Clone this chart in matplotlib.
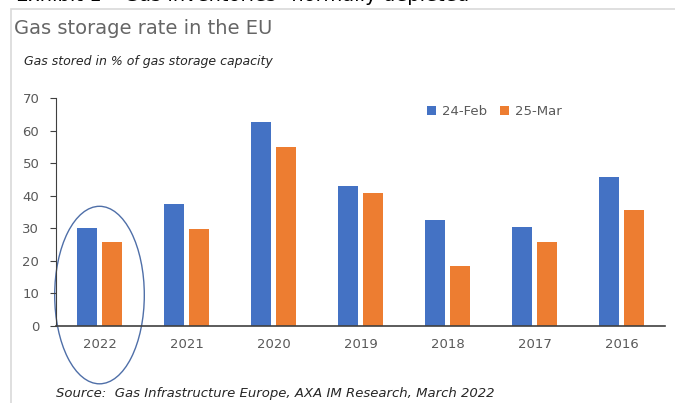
import numpy as np
import matplotlib.pyplot as plt
from matplotlib.patches import Ellipse, Rectangle

years = ['2022', '2021', '2020', '2019', '2018', '2017', '2016']
feb24 = [30, 37.5, 62.5, 43, 32.5, 30.3, 45.7]
mar25 = [25.7, 29.7, 55, 40.8, 18.5, 25.8, 35.7]

blue = '#4472C4'
orange = '#ED7D31'
grey = '#595959'

fig = plt.figure(figsize=(6.75, 4.03), dpi=100)
fig.patch.set_facecolor('white')

# light frame of the exhibit box
fig.patches.append(Rectangle((11/675, -0.1), 1.0, 1 - 9/403 + 0.1,
                             transform=fig.transFigure, fill=False,
                             edgecolor='#d9d9d9', linewidth=1.2))

# exhibit heading, cut by the top edge as in the source screenshot
fig.text(16/675, 1 + 4/403, 'Exhibit 1 \u2013 Gas inventories \u201cnormally depleted\u201d',
         fontsize=14, color='black', va='center', ha='left')

fig.text(14/675, 1 - 28/403, 'Gas storage rate in the EU', fontsize=14,
         color='#666666', va='center', ha='left')
fig.text(24/675, 1 - 61/403, 'Gas stored in % of gas storage capacity', fontsize=9,
         style='italic', color='#262626', va='center', ha='left')
fig.text(56/675, 1 - 394/403, 'Source:  Gas Infrastructure Europe, AXA IM Research, March 2022',
         fontsize=9.5, style='italic', color='#262626', va='center', ha='left')

ax = fig.add_axes([56/675, 1 - 326/403, (665 - 56)/675, (326 - 98)/403])
x = np.arange(len(years))
w = 0.23
off = 0.144
ax.bar(x - off, feb24, w, color=blue, label='24-Feb')
ax.bar(x + off, mar25, w, color=orange, label='25-Mar')

ax.set_xlim(-0.5, len(years) - 0.5)
ax.set_ylim(0, 70)
ax.set_yticks(np.arange(0, 71, 10))
ax.set_xticks(x)
ax.set_xticklabels(years)
for s in ['top', 'right']:
    ax.spines[s].set_visible(False)
ax.spines['left'].set_color('#404040')
ax.spines['bottom'].set_color('#404040')
ax.spines['bottom'].set_linewidth(1.2)
ax.tick_params(axis='y', colors=grey, labelsize=9.5, length=4, direction='out', pad=8)
ax.tick_params(axis='y', color='#404040')
ax.tick_params(axis='x', colors=grey, labelsize=9.5, length=0, pad=9)

ax.legend(loc='upper left', bbox_to_anchor=(0.59, 1.02), ncol=2, frameon=False,
          fontsize=9.5, labelcolor=grey, handlelength=0.7, handleheight=0.7,
          handletextpad=0.4, columnspacing=1.0)

# circle around 2022
ax.add_patch(Ellipse((0.0, 9.5), 1.03, 54.5, fill=False, edgecolor='#4F6FA8',
                     linewidth=1.0, clip_on=False))

fig.savefig('out.png', dpi=100)
